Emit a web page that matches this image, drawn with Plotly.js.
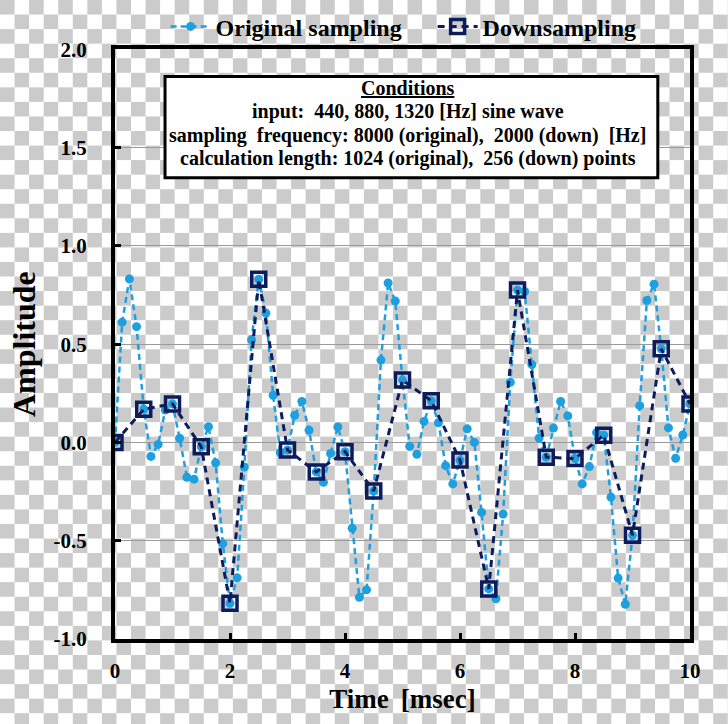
<!DOCTYPE html>
<html>
<head>
<meta charset="utf-8">
<script src="https://cdn.plot.ly/plotly-3.0.1.min.js"></script>
<style>
html, body { margin: 0; padding: 0; }
body {
  width: 728px; height: 724px; overflow: hidden;
  background: repeating-conic-gradient(#ffffff 0 25%, #cbcbcb 0 50%) 0 0 / 29.12px 29.12px;
}
#chart { width: 728px; height: 724px; }
</style>
</head>
<body>
<div id="chart"></div>
<script>
// Original sampling (8000 Hz): time [msec] and amplitude
const origTime = [0, 0.125, 0.25, 0.375, 0.5, 0.625, 0.75, 0.875, 1, 1.125, 1.25, 1.375, 1.5, 1.625, 1.75, 1.875,
  2, 2.125, 2.25, 2.375, 2.5, 2.625, 2.75, 2.875, 3, 3.125, 3.25, 3.375, 3.5, 3.625, 3.75, 3.875,
  4, 4.125, 4.25, 4.375, 4.5, 4.625, 4.75, 4.875, 5, 5.125, 5.25, 5.375, 5.5, 5.625, 5.75, 5.875,
  6, 6.125, 6.25, 6.375, 6.5, 6.625, 6.75, 6.875, 7, 7.125, 7.25, 7.375, 7.5, 7.625, 7.75, 7.875,
  8, 8.125, 8.25, 8.375, 8.5, 8.625, 8.75, 8.875, 9, 9.125, 9.25, 9.375, 9.5, 9.625, 9.75, 9.875, 10];
const origAmp = [0, 0.612, 0.832, 0.589, 0.169, -0.071, -0.010, 0.165, 0.196, 0.021, -0.177, -0.187, -0.022, 0.080, -0.104, -0.515,
  -0.818, -0.689, -0.125, 0.522, 0.830, 0.658, 0.240, -0.051, -0.038, 0.138, 0.208, 0.062, -0.150, -0.203, -0.056, 0.079,
  -0.047, -0.436, -0.788, -0.750, -0.247, 0.419, 0.811, 0.719, 0.317, -0.020, -0.060, 0.107, 0.212, 0.100, -0.118, -0.211,
  -0.090, 0.069, 0.000, -0.356, -0.745, -0.795, -0.364, 0.306, 0.775, 0.768, 0.396, 0.022, -0.075, 0.073, 0.208, 0.135,
  -0.082, -0.211, -0.123, 0.050, 0.037, -0.278, -0.690, -0.823, -0.472, 0.187, 0.722, 0.805, 0.476, 0.074, -0.081, 0.038, 0.196];

// Downsampling (2000 Hz)
const downTime = [0, 0.5, 1, 1.5, 2, 2.5, 3, 3.5, 4, 4.5, 5, 5.5, 6, 6.5, 7, 7.5, 8, 8.5, 9, 9.5, 10];
const downAmp = [0, 0.169, 0.196, -0.022, -0.818, 0.830, -0.038, -0.150, -0.047, -0.247, 0.317, 0.212,
  -0.090, -0.745, 0.775, -0.075, -0.082, 0.037, -0.472, 0.476, 0.196];

const seriesNames = ['Original sampling', 'Downsampling'];
const xTickVals = [0, 2, 4, 6, 8, 10];
const yTickVals = [-1.0, -0.5, 0.0, 0.5, 1.0, 1.5, 2.0];
const yTickText = ['-1.0', '-0.5', '0.0', '0.5', '1.0', '1.5', '2.0'];
const conditionLines = [
  '<u>Conditions</u>',
  'input:  440, 880, 1320 [Hz] sine wave',
  'sampling  frequency: 8000 (original),  2000 (down)  [Hz]',
  'calculation length: 1024 (original),  256 (down) points'
];

const SERIF = 'Liberation Serif, Times New Roman, serif';
const lightBlue = '#1e9fdf';
const navy = '#0c1c5c';

const traces = [
  {
    x: origTime, y: origAmp, name: seriesNames[0], type: 'scatter', mode: 'lines+markers',
    line: { color: lightBlue, width: 2.5, dash: '6px,4px' },
    marker: { color: lightBlue, size: 9, symbol: 'circle' }
  },
  {
    x: downTime, y: downAmp, name: seriesNames[1], type: 'scatter', mode: 'lines+markers',
    line: { color: navy, width: 3, dash: '7px,5px' },
    marker: { color: navy, size: 14, symbol: 'square-open', line: { color: navy, width: 3.5 } }
  }
];

// conditions box geometry (paper coords)
const boxX0 = 0.087, boxX1 = 0.944, boxY0 = 0.782, boxY1 = 0.954;
const lineY = [0.934, 0.894, 0.854, 0.814];
const annotations = conditionLines.map((t, i) => ({
  xref: 'paper', yref: 'paper', x: 0.509, y: lineY[i], xanchor: 'center', yanchor: 'middle',
  text: t, showarrow: false, font: { family: SERIF, size: 20, weight: 'bold', color: '#000' }
}));

const layout = {
  width: 728, height: 724,
  paper_bgcolor: 'rgba(0,0,0,0)', plot_bgcolor: 'rgba(0,0,0,0)',
  margin: { l: 115, r: 38, t: 48, b: 85 },
  font: { family: SERIF, color: '#000' },
  showlegend: true,
  legend: {
    orientation: 'h', xref: 'container', yref: 'container',
    x: 0.2275, xanchor: 'left', y: 0.963, yanchor: 'middle',
    font: { family: SERIF, size: 24, weight: 'bold', color: '#000' },
    bgcolor: 'rgba(0,0,0,0)', itemwidth: 40, entrywidth: 212, entrywidthmode: 'pixels'
  },
  xaxis: {
    range: [0, 10], tickvals: xTickVals, ticktext: xTickVals.map(String),
    showgrid: false, zeroline: false,
    showline: true, linecolor: '#000', linewidth: 4, mirror: true,
    ticks: 'inside', ticklen: 6, tickwidth: 3, tickcolor: '#000',
    tickfont: { family: SERIF, size: 21, weight: 'bold', color: '#000' },
    ticklabelstandoff: 10,
    title: { text: 'Time \u2009[msec]', font: { family: SERIF, size: 27, weight: 'bold', color: '#000' }, standoff: 8 }
  },
  yaxis: {
    range: [-1, 2], tickvals: yTickVals, ticktext: yTickText,
    showgrid: true, gridcolor: '#9a9a9a', gridwidth: 1, zeroline: false,
    showline: true, linecolor: '#000', linewidth: 4, mirror: true,
    ticks: 'inside', ticklen: 6, tickwidth: 3, tickcolor: '#000',
    tickfont: { family: SERIF, size: 21, weight: 'bold', color: '#000' },
    ticklabelstandoff: 20,
    title: { text: 'Amplitude', font: { family: SERIF, size: 32, weight: 'bold', color: '#000' }, standoff: 9 }
  },
  shapes: [{
    type: 'rect', xref: 'paper', yref: 'paper', x0: boxX0, x1: boxX1, y0: boxY0, y1: boxY1,
    fillcolor: '#ffffff', line: { color: '#000', width: 3 }, layer: 'above'
  }],
  annotations: annotations
};

Plotly.newPlot('chart', traces, layout, { displayModeBar: false, staticPlot: true });
</script>
</body>
</html>
